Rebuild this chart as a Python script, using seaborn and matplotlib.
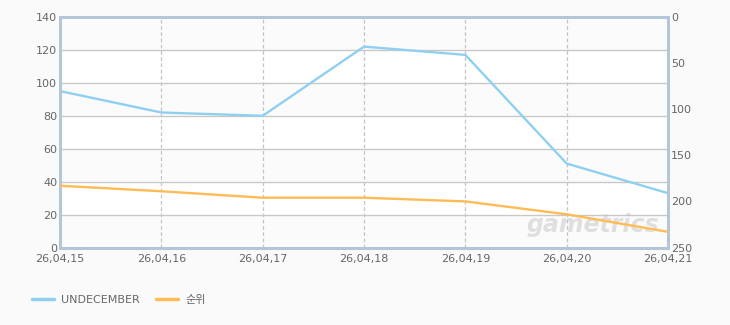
import matplotlib
matplotlib.use("Agg")
import matplotlib.pyplot as plt
import seaborn as sns
import pandas as pd
import numpy as np

dates = ["26,04,15", "26,04,16", "26,04,17", "26,04,18", "26,04,19", "26,04,20", "26,04,21"]
undecember = [95, 82, 80, 122, 117, 51, 33]
rank = [183, 189, 196, 196, 200, 214, 233]
left_ticks = [0, 20, 40, 60, 80, 100, 120, 140]
right_ticks = [0, 50, 100, 150, 200, 250]

sns.set_theme(style="white")
plt.rcParams['font.family'] = ['DejaVu Sans', 'Noto Sans CJK KR']

bg = "#fafafa"
fig = plt.figure(figsize=(7.3, 3.25), dpi=100, facecolor=bg)
ax = fig.add_axes([60/730, 1-247.5/325, 608/730, 230.5/325])
ax.set_facecolor("white")

df = pd.DataFrame({"pos": np.arange(len(dates)), "date": dates, "UNDECEMBER": undecember, "rank": rank})

# alternating bands
for i, lo in enumerate(left_ticks[:-1]):
    if i % 2 == 0:
        ax.axhspan(lo, lo + 20, color="#fbfbfb", zorder=0, lw=0)

blue = "#8fd0f0"
orange = "#ffbb55"
sns.lineplot(data=df, x="pos", y="UNDECEMBER", ax=ax, color=blue, lw=1.7, zorder=5)
ax.set_xlim(0, len(dates) - 1)
ax.set_ylim(0, 140)
ax.set_yticks(left_ticks)
ax.set_xticks(df["pos"])
ax.set_xticklabels(dates)
ax.set_xlabel("")
ax.set_ylabel("")
ax.grid(axis="y", color="#c8c8c8", lw=1, ls="-")
ax.grid(axis="x", color="#c4c4c4", lw=0.9, ls=(0, (3, 2)))
ax.set_axisbelow(True)
ax.tick_params(axis="both", length=0, labelsize=8, labelcolor="#666666")
ax.tick_params(axis="y", pad=2)
ax.tick_params(axis="x", pad=5)

ax2 = ax.twinx()
sns.lineplot(data=df, x="pos", y="rank", ax=ax2, color=orange, lw=1.7, zorder=5)
ax2.set_ylim(250, 0)
ax2.set_yticks(right_ticks)
ax2.set_ylabel("")
ax2.tick_params(axis="y", length=0, labelsize=8, labelcolor="#666666", pad=2)
ax2.grid(False)

for a in (ax, ax2):
    for s in a.spines.values():
        s.set_color("#b4c6da")
        s.set_linewidth(2)
ax.spines["bottom"].set_color("#a8b4c4")

ax2.text(0.985, 0.045, "gametrics", transform=ax.transAxes, ha="right", va="bottom",
         fontsize=17, fontweight="bold", style="italic", color="#c4c4c4", alpha=0.5, zorder=1)

from matplotlib.lines import Line2D
handles = [Line2D([], [], color=blue, lw=2.5), Line2D([], [], color=orange, lw=2.5)]
leg = fig.legend(handles, ["UNDECEMBER", "순위"], loc="center left", bbox_to_anchor=(0.03, 1-300/325),
                 ncol=2, frameon=False, fontsize=8, handlelength=2.0, handletextpad=0.6, columnspacing=1.5,
                 labelcolor="#666666")

fig.savefig("out.png", dpi=100, facecolor=bg)
